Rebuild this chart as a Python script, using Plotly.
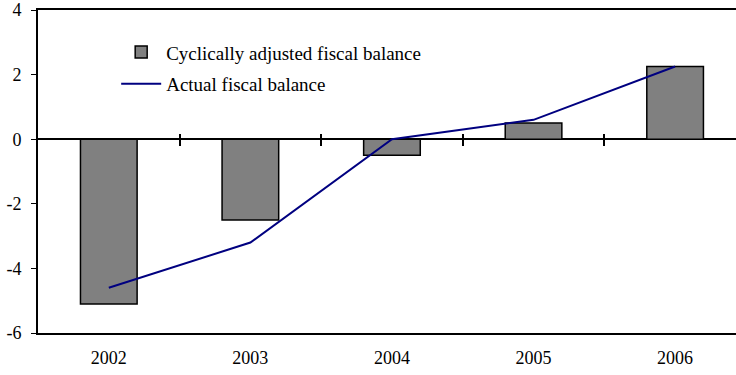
import plotly.graph_objects as go

# Fiscal balance, percent of GDP
years = ["2002", "2003", "2004", "2005", "2006"]
cyclically_adjusted = [-5.1, -2.5, -0.5, 0.5, 2.25]
actual = [-4.6, -3.2, 0.0, 0.6, 2.25]
y_ticks = [-6, -4, -2, 0, 2, 4]
y_tick_text = ["-6", "-4", "-2", "0", "2", "4"]

title_text = "(In percent of GDP)"
bar_name = "Cyclically adjusted fiscal balance"
line_name = "Actual fiscal balance"

FONT = "Liberation Serif"
y_range = [-6, 4]
x_range = [-0.5, 4.43]
plot_height_px = 375 - 10 - 42
zero_pos = (0 - y_range[0]) / (y_range[1] - y_range[0])
boundaries = [i + 0.5 for i in range(len(years) - 1)]

fig = go.Figure()
fig.add_trace(go.Bar(
    x=years, y=cyclically_adjusted, name=bar_name, width=0.40,
    legendgroup="a",
    marker=dict(color="#808080", line=dict(color="black", width=1.5)),
))
fig.add_trace(go.Scatter(
    x=years, y=actual, name=line_name, mode="lines", legendgroup="b",
    line=dict(color="#000080", width=2),
))
# carrier trace so the category-boundary tick axis on the zero line is drawn
fig.add_trace(go.Scatter(
    x=[0], y=[0], xaxis="x2", mode="markers", marker=dict(opacity=0),
    showlegend=False, hoverinfo="skip",
))

axis_common = dict(range=x_range, showgrid=False, zeroline=False)

fig.update_layout(
    width=736, height=375,
    margin=dict(l=38, r=0, t=10, b=42),
    paper_bgcolor="white", plot_bgcolor="white",
    font=dict(family=FONT, size=18, color="black"),
    showlegend=True,
    legend=dict(
        x=0.112, y=0.928, xanchor="left", yanchor="top",
        bgcolor="rgba(0,0,0,0)", font=dict(family=FONT, size=19),
        traceorder="grouped", tracegroupgap=4, itemwidth=40,
    ),
    xaxis=dict(
        type="category", **axis_common,
        showline=True, linecolor="black", linewidth=2, mirror=True,
        ticks="", tickfont=dict(family=FONT, size=18), ticklabelstandoff=7,
    ),
    xaxis2=dict(
        overlaying="x", anchor="free", type="linear", **axis_common,
        position=zero_pos + 6 / plot_height_px, showline=False,
        tickmode="array", tickvals=boundaries, ticks="outside",
        ticklen=12, tickwidth=1.5, tickcolor="black", showticklabels=False,
    ),
    yaxis=dict(
        range=y_range, tickmode="array", tickvals=y_ticks, ticktext=y_tick_text,
        showgrid=False,
        zeroline=True, zerolinecolor="black", zerolinewidth=1.5,
        showline=True, linecolor="black", linewidth=2,
        ticks="outside", ticklen=5, tickwidth=1, tickcolor="black",
        tickfont=dict(family=FONT, size=18), ticklabelstandoff=6,
    ),
    annotations=[dict(
        text=title_text, xref="paper", yref="paper", x=0.5, y=1.0,
        yshift=8, xanchor="center", yanchor="bottom", showarrow=False,
        font=dict(family=FONT, size=19),
    )],
)

fig.write_html("out.html")
